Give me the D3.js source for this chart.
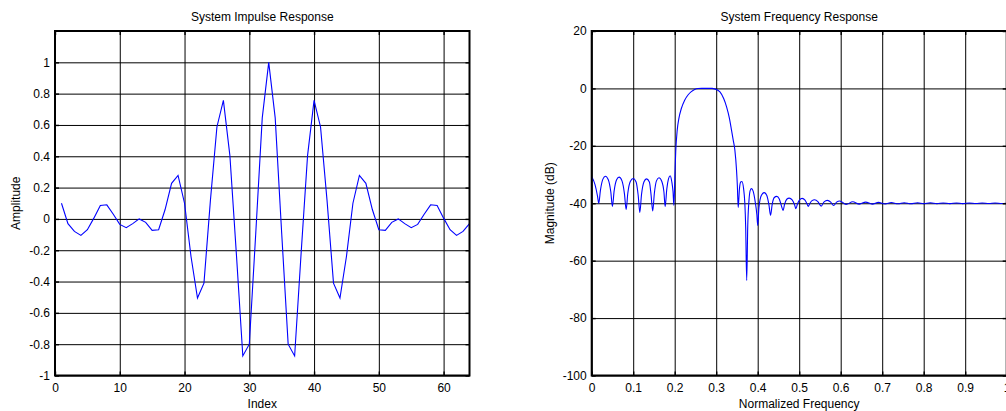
<!DOCTYPE html>
<html>
<head>
<meta charset="utf-8">
<script src="https://cdn.jsdelivr.net/npm/d3@7"></script>
<style>
    body { margin: 0; background: #fff; overflow: hidden; }
    svg { display: block; font-family: "Liberation Sans", Arial, sans-serif; }
</style>
</head>
<body>
<svg width="1006" height="411"></svg>
<script>
var svg = d3.select("svg");

//////////// DATA ////////////

// impulse response, index 1..64
var impulseIndex = d3.range(1, 65);
var impulseAmp = [
    0.1, -0.03, -0.08, -0.105, -0.069, 0.005, 0.086, 0.09, 0.03, -0.035,
    -0.056, -0.03, 0.0, -0.022, -0.073, -0.069, 0.06, 0.227, 0.278, 0.1,
    -0.24, -0.505, -0.41, 0.12, 0.587, 0.757, 0.406, -0.22, -0.875, -0.80,
    -0.09, 0.645, 1.0, 0.645, -0.09, -0.80, -0.875, -0.22, 0.406, 0.757,
    0.587, 0.12, -0.41, -0.505, -0.24, 0.1, 0.278, 0.227, 0.06, -0.069,
    -0.073, -0.022, 0.0, -0.03, -0.056, -0.035, 0.03, 0.09, 0.086, 0.005,
    -0.069, -0.105, -0.08, -0.03
];
var impulseXTicks = [0, 10, 20, 30, 40, 50, 60];
var impulseXLabels = ["0", "10", "20", "30", "40", "50", "60"];
var impulseYTicks = [-1, -0.8, -0.6, -0.4, -0.2, 0, 0.2, 0.4, 0.6, 0.8, 1];
var impulseYLabels = ["-1", "-0.8", "-0.6", "-0.4", "-0.2", "0", "0.2", "0.4", "0.6", "0.8", "1"];

// frequency response (normalized frequency, dB) - nulls, peaks and shoulders
var freqNorm = [
    0, 0.008, 0.014, 0.017, 0.021, 0.027, 0.033, 0.040, 0.046, 0.050,
    0.054, 0.060, 0.066, 0.073, 0.079, 0.083, 0.087, 0.093, 0.100, 0.107,
    0.112, 0.116, 0.120, 0.126, 0.132, 0.139, 0.143, 0.147, 0.151, 0.156,
    0.162, 0.169, 0.174, 0.177, 0.181, 0.185, 0.189, 0.193, 0.196, 0.198,
    0.2005, 0.2025, 0.206, 0.210, 0.216, 0.224, 0.232, 0.240, 0.248, 0.256,
    0.265, 0.290, 0.298, 0.309, 0.318, 0.325, 0.332, 0.337, 0.341, 0.345,
    0.349, 0.351, 0.353, 0.356, 0.359, 0.362, 0.366, 0.369, 0.371, 0.3735,
    0.376, 0.379, 0.382, 0.385, 0.389, 0.394, 0.398, 0.400, 0.403, 0.409,
    0.416, 0.422, 0.427, 0.431, 0.435, 0.440, 0.446, 0.452, 0.457, 0.461,
    0.465, 0.470, 0.476, 0.483, 0.489, 0.492, 0.496, 0.501, 0.507, 0.514,
    0.519, 0.522, 0.526, 0.531, 0.537, 0.545, 0.553, 0.560, 0.568, 0.576,
    0.583, 0.590, 0.598, 0.613, 0.629, 0.645, 0.660, 0.676, 0.691, 0.707,
    0.722, 0.738, 0.753, 0.769, 0.785, 0.800, 0.816, 0.832, 0.847, 0.863,
    0.879, 0.894, 0.910, 0.926, 0.941, 0.957, 0.972, 0.988, 1.000
];
var freqMagDb = [
    -30.8, -33.5, -37.5, -40.0, -35.5, -31.6, -30.6, -31.8, -36.0, -41.1,
    -35.8, -31.8, -30.9, -32.2, -36.8, -42.2, -36.5, -32.4, -31.4, -32.6,
    -37.2, -43.2, -37.0, -32.5, -31.5, -32.6, -37.0, -42.7, -36.5, -32.2,
    -31.1, -32.4, -36.0, -41.1, -35.0, -31.5, -30.4, -32.5, -36.0, -40.7,
    -30.0, -22.0, -14.6, -10.5, -7.0, -4.1, -2.3, -1.1, -0.35, -0.05,
    0, 0, -0.25, -1.2, -3.5, -6.4, -10.5, -14.6, -18.0, -21.5,
    -28.5, -34.0, -41.5, -35.0, -32.6, -32.4, -34.9, -40.0, -48.0, -66.9,
    -48.0, -39.0, -35.5, -34.9, -35.8, -39.5, -44.0, -47.7, -41.5, -37.2,
    -36.3, -37.3, -40.5, -44.2, -40.3, -38.0, -37.6, -38.5, -40.8, -42.5,
    -40.2, -38.6, -38.2, -38.8, -40.6, -41.9, -40.2, -38.8, -38.3, -38.9,
    -40.3, -41.1, -40.0, -39.1, -38.8, -39.4, -41.0, -39.5, -39.0, -39.6,
    -40.8, -39.6, -39.2, -40.4, -39.5, -40.3, -39.6, -40.3, -39.7, -40.25,
    -39.75, -40.2, -39.8, -40.2, -39.85, -40.15, -39.85, -40.15, -39.9, -40.12,
    -39.9, -40.12, -39.9, -40.1, -39.9, -40.1, -39.92, -40.1, -39.95
];
var freqXTicks = [0, 0.1, 0.2, 0.3, 0.4, 0.5, 0.6, 0.7, 0.8, 0.9, 1];
var freqXLabels = ["0", "0.1", "0.2", "0.3", "0.4", "0.5", "0.6", "0.7", "0.8", "0.9", "1"];
var freqYTicks = [-100, -80, -60, -40, -20, 0, 20];
var freqYLabels = ["-100", "-80", "-60", "-40", "-20", "0", "20"];

//////////// PANELS ////////////

var FONT = "Liberation Sans, Arial, sans-serif";

function drawPanel(p) {
    var g = svg.append("g");
    var x = d3.scaleLinear().domain(p.xDomain).range([p.left, p.right]);
    var y = d3.scaleLinear().domain(p.yDomain).range([p.bottom, p.top]);
    var w = p.right - p.left, h = p.bottom - p.top;

    // grid lines + tick labels
    var gx = g.append("g")
        .attr("transform", "translate(0," + p.bottom + ")")
        .call(d3.axisBottom(x).tickValues(p.xTicks).tickSize(-h).tickPadding(8)
            .tickFormat(function (d, i) { return p.xLabels[i]; }));
    var gy = g.append("g")
        .attr("transform", "translate(" + p.left + ",0)")
        .call(d3.axisLeft(y).tickValues(p.yTicks).tickSize(-w).tickPadding(5)
            .tickFormat(function (d, i) { return p.yLabels[i]; }));
    [gx, gy].forEach(function (a) {
        a.attr("font-size", 12).attr("font-family", FONT);
        a.select(".domain").remove();
        a.selectAll("line").attr("stroke", "#000").attr("stroke-width", 1);
        a.selectAll("text").attr("fill", "#000");
    });

    // data line
    var line = d3.line()
        .x(function (d) { return x(d[0]); })
        .y(function (d) { return y(d[1]); })
        .curve(p.curve);
    g.append("path")
        .datum(d3.zip(p.xs, p.ys))
        .attr("fill", "none")
        .attr("stroke", "#0000ff")
        .attr("stroke-width", 1.1)
        .attr("d", line);

    // inward tick marks on all four sides
    var marks = [
        [d3.axisTop(x).tickValues(p.xTicks), "translate(0," + p.bottom + ")"],
        [d3.axisBottom(x).tickValues(p.xTicks), "translate(0," + p.top + ")"],
        [d3.axisRight(y).tickValues(p.yTicks), "translate(" + p.left + ",0)"],
        [d3.axisLeft(y).tickValues(p.yTicks), "translate(" + p.right + ",0)"]
    ];
    marks.forEach(function (m) {
        var a = g.append("g").attr("transform", m[1])
            .call(m[0].tickSize(4).tickFormat(""));
        a.select(".domain").remove();
        a.selectAll("line").attr("stroke", "#000").attr("stroke-width", 1.4);
    });

    // axes box
    g.append("rect")
        .attr("x", p.left).attr("y", p.top)
        .attr("width", w).attr("height", h)
        .attr("fill", "none")
        .attr("stroke", "#000")
        .attr("stroke-width", 2);

    // title and axis labels
    var cx = (p.left + p.right) / 2, cy = (p.top + p.bottom) / 2;
    g.append("text")
        .attr("x", cx).attr("y", 20.5)
        .attr("text-anchor", "middle")
        .attr("font-size", 12).attr("font-family", FONT)
        .text(p.title);
    g.append("text")
        .attr("x", cx).attr("y", 408)
        .attr("text-anchor", "middle")
        .attr("font-size", 12).attr("font-family", FONT)
        .text(p.xTitle);
    g.append("text")
        .attr("transform", "translate(" + p.yTitleX + "," + cy + ") rotate(-90)")
        .attr("text-anchor", "middle")
        .attr("font-size", 12).attr("font-family", FONT)
        .text(p.yTitle);
}

drawPanel({
    left: 55, right: 469.5, top: 31, bottom: 375.5,
    xDomain: [0, 64], yDomain: [-1, 1.2],
    xTicks: impulseXTicks, xLabels: impulseXLabels,
    yTicks: impulseYTicks, yLabels: impulseYLabels,
    xs: impulseIndex, ys: impulseAmp,
    curve: d3.curveLinear,
    title: "System Impulse Response",
    xTitle: "Index",
    yTitle: "Amplitude", yTitleX: 20
});

drawPanel({
    left: 591.7, right: 1006.7, top: 31, bottom: 375.5,
    xDomain: [0, 1], yDomain: [-100, 20],
    xTicks: freqXTicks, xLabels: freqXLabels,
    yTicks: freqYTicks, yLabels: freqYLabels,
    xs: freqNorm, ys: freqMagDb,
    curve: d3.curveMonotoneX,
    title: "System Frequency Response",
    xTitle: "Normalized Frequency",
    yTitle: "Magnitude (dB)", yTitleX: 553.5
});
</script>
</body>
</html>
